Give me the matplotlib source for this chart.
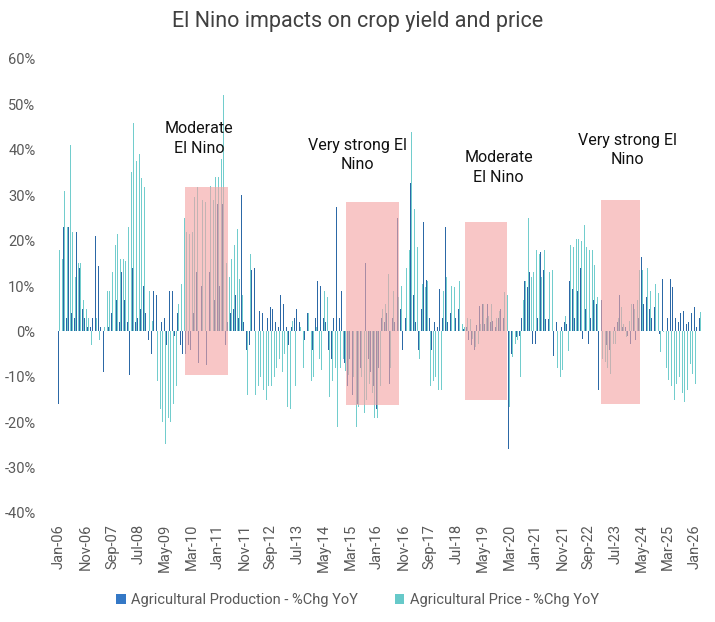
import matplotlib
matplotlib.use('Agg')
import matplotlib.pyplot as plt
from matplotlib.patches import Rectangle
import numpy as np

plt.rcParams['font.family'] = ['Roboto', 'DejaVu Sans']

# ---------------- data ----------------
tick_labels = ["Jan-06", "Nov-06", "Sep-07", "Jul-08", "May-09", "Mar-10", "Jan-11",
               "Nov-11", "Sep-12", "Jul-13", "May-14", "Mar-15", "Jan-16", "Nov-16",
               "Sep-17", "Jul-18", "May-19", "Mar-20", "Jan-21", "Nov-21", "Sep-22",
               "Jul-23", "May-24", "Mar-25", "Jan-26"]

# Monthly % change YoY, Jan-06 .. Mar-26
production = (
    [-16, -5, 23, 3, 23, 4, 3, 22, 14, 5, 3, 1] +            # 2006
    [1, 3, 21, 14.5, 1, -9, 2, 1, 4, 2, 7, 2] +              # 2007
    [13, 7, 2, -9.5, 14, 2, 3, 5, 10, 4, -2, -5] +           # 2008
    [9, 8, 3, 2, 3, -3, 9, 9, -1, 4, -3, -5] +               # 2009
    [-5, -3, -4, 4, 13, -7, 10, 5, -7.5, 13, -8, 7] +        # 2010
    [28, 10, 28, -3, 2, 4, 5, 8, 3, 30, 2, -4] +             # 2011
    [-3, 13.5, 14, 4, 4.6, 4, 2, 3, 5.4, 5, 2, 1] +          # 2012
    [8, 6, 1, -3, 1, 3, 5, 2, 18, -2, 4, 2] +                # 2013
    [-4, 3, 11, 10, 3, 2, -4, -6, 3, 27.4, 3, 9] +           # 2014
    [-7, -12, -6, -14, -9, -16, -8, -11, 15, -6, -9, -12] +  # 2015
    [-17, -8, 3, 2, 4, -11.5, 3, 2, 25, 5, -4, 3] +          # 2016
    [3, 32.6, 8, 2, -4, 5, 24, 11.3, 3, -4, 2, 1] +          # 2017
    [9.4, 3, 23, 2, 4, 6, 3, 5, 1.7, 0.5, 1, -2] +           # 2018
    [-3, -4, 1.3, 5.7, 6, 1.7, 6, 2, 2.4, 1, 3, 5] +         # 2019
    [3, -11.5, -26, -5, -2, -1.3, -1, 3, 11, 9.8, 13, -2.7] +  # 2020
    [-2.7, 3, 17.5, 13.5, 2.8, 2.8, 4, -5.4, 2, -1.3, 1, 2] +  # 2021
    [1.7, 11, 9.4, 3, 9, 14, -1.6, 5, -2.7, 3, 7, 6] +         # 2022
    [-13, 7, 16.4, -3, -4, -0.5, 1, 2, 8, 1, 1, -1] +          # 2023
    [-2.7, 6, -2, 3, 16.4, 6, 7.6, 5, 3, 5.4, 5.4, -0.5] +     # 2024
    [11.6, 2, 3, 11.6, 9.8, 3, 2, 4, 4.5, 1.7, 2, 4] +         # 2025
    [5.4, 1, 3]                                                # 2026
)

price = (
    [18, 16, 31, 23, 41, 22, 12, 15, 15, 7, 5, 3] +             # 2006
    [-3, -5, 3, -2, -4, 1, 9, 9, 13, 19, 21.5, 16] +            # 2007
    [16, 15.6, 23, 35, 46, 37.5, 39, 33.7, 31.8, 11, 9, 2.4] +  # 2008
    [-5, -11, -17, -20, -24.7, -19, -20, -16, -12, 6, 10.5, 25] +  # 2009
    [22, 21.5, 22, 29.6, 31.8, 39.5, 29, 28.5, 26, 32, 29, 34] +   # 2010
    [34, 38, 52, 15, 12, 16, 19, 22.6, 11.6, 8, -24.5, -14] +      # 2011
    [17, -19, -14, -12, -10, -13, -15, -12, -12, -10, -8, -6] +    # 2012
    [-9, -5, -16.7, -17, 2.4, -12, -6, 1, -8, -4, 4, -11] +        # 2013
    [-10, 1, -6, -8.5, 9, 7.6, -14.5, -11, -8, -21, -8, -6] +      # 2014
    [-8.8, -9.5, -11.5, -10, -21, -16.7, -10, -18, -15, -11.5, -13.5, -19] +  # 2015
    [-19, -12, 5, 6, 12.7, -8, 9, 9, 7.6, 10, 10, 14] +            # 2016
    [18, 44, 27, 18.6, -6, 10.5, 9.8, 11, -12, -11, -10, -13] +    # 2017
    [-13, 9, 12, 11, 10, 9.8, 11, 11, 1.7, 1, 3, 2.8] +            # 2018
    [-1.6, -3.4, -2.7, 1.7, 6, 3, 3.5, 6, -3.4, 3, 4.6, 8] +        # 2019
    [8.7, 8, -16.7, -5.7, -2.7, -2, -10, 7, 11, 25, 12, 13] +       # 2020
    [18, 17, 12, 18, 13.5, 13, 13.5, 7, -8, -10, -8.6, 3.5] +       # 2021
    [-4.4, 19, 18.6, 20.4, 20.4, 20, 23.4, 18.6, 17.9, 17.9, 14.6, 7.6] +  # 2022
    [7.6, -6, -6.8, -8, -9.3, -2.7, -2.7, 3, 5.4, 1.7, -1.3, 2.4] +  # 2023
    [6, 5, 7, 13.5, 13.5, 1.7, 14, 9, 10.5, 10.5, 8.4, -4.6] +       # 2024
    [-0.2, -8, -10.7, -12, -15, -11.5, -10, -13.5, -15.6, -13, -7.2, -9.3] +  # 2025
    [-11.5, -5, 4.3]                                                 # 2026
)

# El Nino episodes (month index from Jan-06, % range of the shaded band)
el_nino_names = ["Moderate\nEl Nino", "Very strong El\nNino", "Moderate\nEl Nino", "Very strong El\nNino"]
el_nino_start = [47.5, 108.3, 153.2, 204.5]
el_nino_end = [63.8, 128.3, 169.0, 219.2]
el_nino_high = [31.9, 28.6, 24.2, 28.9]
el_nino_low = [-9.7, -16.3, -15.0, -15.9]

# ---------------- figure ----------------
fig = plt.figure(figsize=(7.15, 6.22), dpi=100)
ax = fig.add_axes([55 / 715, (622 - 513) / 622, 649 / 715, 454 / 622])

months = np.arange(len(production))
bw = 0.34
off = 0.24
c_prod = '#2C68A6'
c_price = '#72CDCD'
ax.bar(months - off, production, width=bw, color=c_prod, linewidth=0, zorder=2,
       label='Agricultural Production - %Chg YoY')
ax.bar(months + off, price, width=bw, color=c_price, linewidth=0, zorder=2,
       label='Agricultural Price - %Chg YoY')

for s, e, hi, lo in zip(el_nino_start, el_nino_end, el_nino_high, el_nino_low):
    ax.add_patch(Rectangle((s, lo), e - s, hi - lo, facecolor='#F5A3A3', alpha=0.62,
                           edgecolor='none', zorder=3))

label_pos = [(52.8, 42.5), (112.5, 38.8), (166.0, 36.1), (214.7, 40.0)]
for name, (lx, ly) in zip(el_nino_names, label_pos):
    ax.text(lx, ly, name, ha='center', va='center', fontsize=11.5, color='#111111',
            linespacing=1.35, zorder=5)

ax.set_xlim(-1.5, 243.5)
ax.set_ylim(-40, 60)
ax.set_xticks(np.arange(len(tick_labels)) * 10)
ax.set_xticklabels(tick_labels, rotation=90, fontsize=10.5, color='#595959')
yt = np.arange(-40, 61, 10)
ax.set_yticks(yt)
ax.set_yticklabels([f"{v}%" for v in yt], fontsize=10.5, color='#595959')
ax.tick_params(axis='both', length=0)
ax.tick_params(axis='y', pad=14)
ax.tick_params(axis='x', pad=8)
for sp in ax.spines.values():
    sp.set_visible(False)

fig.text(0.5, 1 - 22 / 622, "El Nino impacts on crop yield and price", ha='center',
         va='center', fontsize=15.5, color='#404040')

leg = fig.legend(loc='center', bbox_to_anchor=(0.5, 1 - 600 / 622), ncol=2, frameon=False,
                 fontsize=10.5, handlelength=0.65, handleheight=0.65, handletextpad=0.4,
                 columnspacing=2.5)
for t in leg.get_texts():
    t.set_color('#595959')
leg.legend_handles[0].set_color('#3478C6')
leg.legend_handles[1].set_color('#66C9C9')

fig.savefig('out.png', dpi=100)
